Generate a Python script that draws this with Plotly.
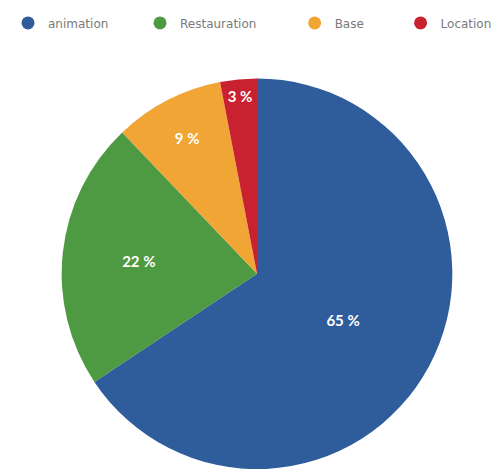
import plotly.graph_objects as go

labels = ["animation", "Restauration", "Base", "Location"]
values = [65, 22, 9, 3]
colors = ["#2f5c9b", "#4e9a42", "#f0a535", "#c9212f"]
legend_x = [0.0, 0.263, 0.571, 0.782]

W, H = 502, 473

fig = go.Figure()
fig.add_trace(go.Pie(
    labels=labels, values=values, sort=False, direction="clockwise", rotation=0,
    marker=dict(colors=colors, line=dict(width=0)),
    texttemplate="%{value} %", textposition="inside", insidetextorientation="horizontal",
    textfont=dict(family="Lato", size=15, color="white", weight="bold"),
    domain=dict(x=[52 / W, 446 / W], y=[1 - 461 / H, 1 - 67 / H]),
    showlegend=False, hoverinfo="label+value",
))
for i, (lab, col) in enumerate(zip(labels, colors)):
    lg = "legend" if i == 0 else f"legend{i+1}"
    fig.add_trace(go.Scatter(
        x=[None], y=[None], mode="markers", name=lab,
        marker=dict(symbol="circle", size=13, color=col),
        legend=lg, showlegend=True,
    ))

leg_common = dict(orientation="h", yanchor="middle", y=1 - 11 / H, xanchor="left",
                  font=dict(family="DejaVu Sans", size=12, color="#7a7a7a"),
                  bgcolor="rgba(0,0,0,0)")
layout_legends = {}
for i, lx in enumerate(legend_x):
    key = "legend" if i == 0 else f"legend{i+1}"
    layout_legends[key] = dict(leg_common, x=lx)

fig.update_layout(
    width=W, height=H, margin=dict(l=0, r=0, t=0, b=0),
    paper_bgcolor="white", plot_bgcolor="white",
    xaxis=dict(visible=False), yaxis=dict(visible=False),
    **layout_legends,
)
fig.write_html("out.html")
